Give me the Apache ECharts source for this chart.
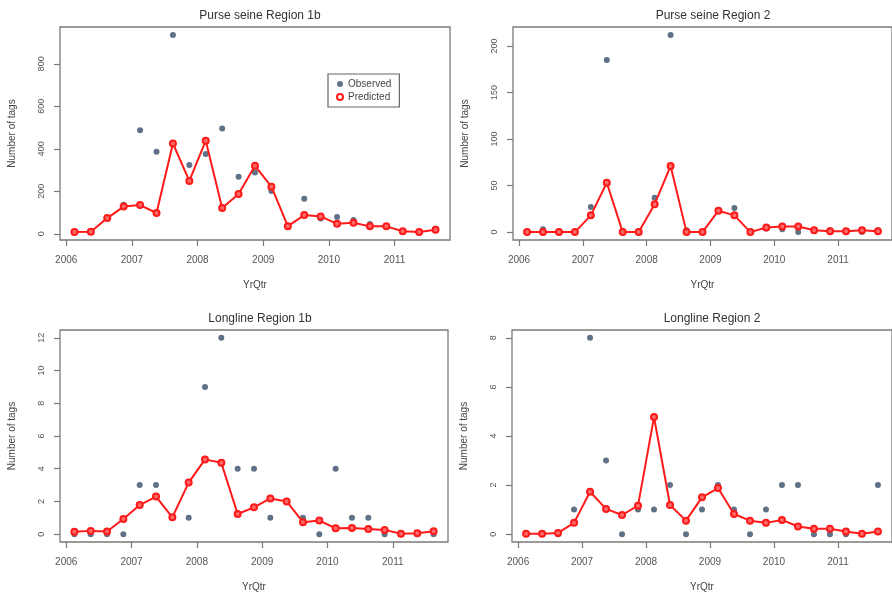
<!DOCTYPE html>
<html>
<head>
<meta charset="utf-8">
<script src="https://cdn.jsdelivr.net/npm/echarts@6/dist/echarts.min.js"></script>
<style>
  html, body { margin: 0; padding: 0; background: #fff; }
  #chart { width: 892px; height: 595px; }
</style>
</head>
<body>
<div id="chart"></div>
<script>
// quarter mid-points (YrQtr)
var yrQtr = [2006.125, 2006.375, 2006.625, 2006.875, 2007.125, 2007.375, 2007.625, 2007.875,
             2008.125, 2008.375, 2008.625, 2008.875, 2009.125, 2009.375, 2009.625, 2009.875,
             2010.125, 2010.375, 2010.625, 2010.875, 2011.125, 2011.375, 2011.625];
var xTicks = [2006, 2007, 2008, 2009, 2010, 2011];

var titles = ['Purse seine Region 1b', 'Purse seine Region 2', 'Longline Region 1b', 'Longline Region 2'];

// Purse seine Region 1b
var ps1bObs  = [8, 12, 74, 137, 487, 386, 936, 324, 375, 496, 269, 288, 202, 39, 165, 72, 79, 65, 46, 36, 12, 9, 24];
var ps1bPred = [8, 10, 74, 128, 135, 98, 425, 249, 438, 121, 187, 320, 222, 36, 88, 82, 47, 52, 35, 35, 12, 8, 19];
var ps1bTicks = [0, 200, 400, 600, 800];

// Purse seine Region 2
var ps2Obs  = [0, 3, 0, 0, 27, 185, 0, 0, 37, 212, 2, 0, 23, 26, 0, 4, 3, 0, 2, 2, 1, 0, 2];
var ps2Pred = [0, 0, 0, 0, 18, 53, 0, 0, 30, 71, 0, 0, 23, 18, 0, 5, 6, 6, 2, 1, 1, 2, 1];
var ps2Ticks = [0, 50, 100, 150, 200];

// Longline Region 1b
var ll1bObs  = [0, 0, 0, 0, 3, 3, 1, 1, 9, 12, 4, 4, 1, 2, 1, 0, 4, 1, 1, 0, 0, 0, 0];
var ll1bPred = [0.14, 0.2, 0.16, 0.93, 1.78, 2.3, 1.03, 3.15, 4.57, 4.36, 1.23, 1.64, 2.18, 2.0, 0.73, 0.83, 0.36, 0.38, 0.32, 0.26, 0.02, 0.06, 0.18];
var ll1bTicks = [0, 2, 4, 6, 8, 10, 12];

// Longline Region 2
var ll2Obs  = [0, 0, 0, 1, 8, 3, 0, 1, 1, 2, 0, 1, 2, 1, 0, 1, 2, 2, 0, 0, 0, 0, 2];
var ll2Pred = [0.02, 0.02, 0.05, 0.46, 1.73, 1.03, 0.78, 1.16, 4.77, 1.19, 0.55, 1.5, 1.88, 0.82, 0.55, 0.46, 0.58, 0.31, 0.22, 0.22, 0.11, 0.02, 0.11];
var ll2Ticks = [0, 2, 4, 6, 8];

var panels = [
  { obs: ps1bObs, pred: ps1bPred, ticks: ps1bTicks, box: { left: 60, top: 27, width: 390, height: 213 } },
  { obs: ps2Obs, pred: ps2Pred, ticks: ps2Ticks, box: { left: 513, top: 27, width: 390, height: 213 } },
  { obs: ll1bObs, pred: ll1bPred, ticks: ll1bTicks, box: { left: 60, top: 330, width: 388, height: 212 } },
  { obs: ll2Obs, pred: ll2Pred, ticks: ll2Ticks, box: { left: 512, top: 330, width: 390, height: 212 } }
];

// R style axis range: data range plus 4% each side
function pad(arrs) {
  var all = [].concat.apply([], arrs);
  var lo = Math.min.apply(null, all), hi = Math.max.apply(null, all);
  var d = (hi - lo) * 0.04;
  return [lo - d, hi + d];
}
function plain(v) { return String(v); }

var font = 'Liberation Sans, Arial, sans-serif';
var axisGray = '#7a7a7a';
var obsColor = '#4d6279';
var predColor = '#ff1a1a';

var xr = pad([yrQtr]);
var grids = [], xAxes = [], yAxes = [], series = [], titleList = [];

panels.forEach(function (p, k) {
  var yr = pad([p.obs, p.pred]);
  grids.push({
    left: p.box.left, top: p.box.top, width: p.box.width, height: p.box.height,
    show: true, borderColor: axisGray, borderWidth: 1.3, backgroundColor: '#fff'
  });
  titleList.push({
    text: titles[k],
    left: p.box.left + 195, top: p.box.top - 22, textAlign: 'center',
    textStyle: { fontFamily: font, fontSize: 12, fontWeight: 'normal', color: '#333' }
  });
  xAxes.push({
    type: 'value', gridIndex: k, min: xr[0], max: xr[1], position: 'bottom',
    name: 'YrQtr', nameLocation: 'middle', nameGap: 40,
    nameTextStyle: { fontFamily: font, fontSize: 10, color: '#444' },
    axisLine: { show: false, onZero: false },
    splitLine: { show: false },
    axisTick: { show: true, length: 6, customValues: xTicks, lineStyle: { color: axisGray, width: 1.2 } },
    axisLabel: { customValues: xTicks, formatter: plain, margin: 15, fontFamily: font, fontSize: 10, color: '#555' }
  });
  yAxes.push({
    type: 'value', gridIndex: k, min: yr[0], max: yr[1], position: 'left',
    name: 'Number of tags', nameLocation: 'middle', nameGap: 43, nameRotate: 90,
    nameTextStyle: { fontFamily: font, fontSize: 10, color: '#444' },
    axisLine: { show: false, onZero: false },
    splitLine: { show: false },
    axisTick: { show: true, length: 6, customValues: p.ticks, lineStyle: { color: axisGray, width: 1.2 } },
    axisLabel: { customValues: p.ticks, formatter: plain, rotate: 90, margin: 14, fontFamily: font, fontSize: 9, color: '#555' }
  });
  series.push({
    name: 'Observed', type: 'scatter', xAxisIndex: k, yAxisIndex: k,
    data: yrQtr.map(function (x, i) { return [x, p.obs[i]]; }),
    symbol: 'circle', symbolSize: 6,
    itemStyle: { color: obsColor, opacity: 0.9 },
    z: 2
  });
  series.push({
    name: 'Predicted', type: 'line', xAxisIndex: k, yAxisIndex: k,
    data: yrQtr.map(function (x, i) { return [x, p.pred[i]]; }),
    symbol: 'circle', symbolSize: 6, showSymbol: true,
    lineStyle: { color: predColor, width: 2 },
    itemStyle: { color: '#ff6a6a', borderColor: predColor, borderWidth: 2 },
    z: 3
  });
});

var chart = echarts.init(document.getElementById('chart'));
chart.setOption({
  animation: false,
  backgroundColor: '#fff',
  title: titleList,
  grid: grids,
  xAxis: xAxes,
  yAxis: yAxes,
  legend: {
    left: 328, top: 74, orient: 'vertical',
    padding: [5, 8, 5, 8], itemGap: 3, itemWidth: 6, itemHeight: 6,
    borderColor: '#666', borderWidth: 1.2,
    textStyle: { fontFamily: font, fontSize: 10, color: '#444' },
    data: [
      { name: 'Observed', icon: 'circle' },
      { name: 'Predicted', icon: 'emptyCircle', itemStyle: { color: predColor, borderColor: predColor, borderWidth: 1.5 } }
    ]
  },
  series: series
});
</script>
</body>
</html>
